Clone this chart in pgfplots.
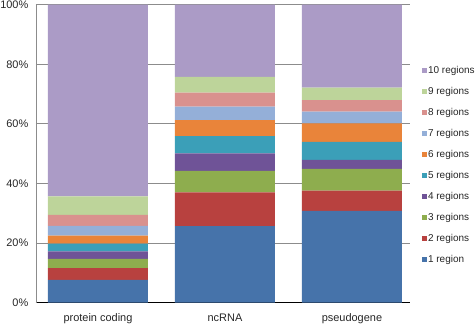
\documentclass[border=0pt]{standalone}
\usepackage{pgfplots}
\pgfplotsset{compat=1.18}
\usepackage{fontspec}
\setmainfont{Liberation Sans}

% series colours, 1 region ... 10 regions
\definecolor{cA}{HTML}{4673AA}
\definecolor{cB}{HTML}{B8413F}
\definecolor{cC}{HTML}{8EAD4E}
\definecolor{cD}{HTML}{6F5397}
\definecolor{cE}{HTML}{3B9FB8}
\definecolor{cF}{HTML}{E9843A}
\definecolor{cG}{HTML}{94AFD8}
\definecolor{cH}{HTML}{D9918E}
\definecolor{cI}{HTML}{BDD49A}
\definecolor{cJ}{HTML}{AB9BC6}
\definecolor{gridc}{HTML}{8C8C8C}
\definecolor{baseline}{HTML}{B9BDD0}

\begin{document}
\begin{tikzpicture}
\path[use as bounding box] (-36bp,-21.3bp) rectangle (440bp,302.7bp);
\begin{axis}[
  at={(0,0)}, anchor=south west,
  scale only axis,
  width=374bp, height=298bp,
  ybar stacked,
  bar width=100bp,
  xmin=-0.488, xmax=2.457,
  ymin=0, ymax=100,
  xtick={0,1,2},
  xticklabels={protein coding, ncRNA, pseudogene},
  ytick={0,20,40,60,80,100},
  yticklabels={0\%,20\%,40\%,60\%,80\%,100\%},
  major tick length=0pt,
  axis lines*=left,
  x axis line style={baseline, line width=1.2bp},
  y axis line style={gridc, line width=0.8bp},
  ymajorgrids,
  grid style={gridc, line width=0.8bp},
  tick label style={font=\fontsize{11}{13}\selectfont, text=black!85},
  yticklabel style={inner sep=0pt, xshift=-7.5bp},
  xticklabel style={inner sep=0pt, anchor=north, yshift=-11bp},
  reverse legend,
  legend cell align=left,
  legend style={draw=none, fill=none, inner sep=0pt, outer sep=0pt,
    at={(1.031,0.792)}, anchor=north west,
    row sep=12bp, column sep=1.5bp,
    nodes={inner sep=0pt, text height=7bp, text depth=2bp,
      font=\fontsize{10}{12}\selectfont, text=black!85}},
  legend image code/.code={\fill[#1] (0bp,-2bp) rectangle (5bp,3bp);},
  every axis plot/.append style={draw=none},
]
\addplot[fill=cA] coordinates {(0,7.7) (1,25.7) (2,30.8)};
\addlegendentry{1 region}
\addplot[fill=cB] coordinates {(0,3.9) (1,11.3) (2,6.8)};
\addlegendentry{2 regions}
\addplot[fill=cC] coordinates {(0,3.1) (1,7.2) (2,7.3)};
\addlegendentry{3 regions}
\addplot[fill=cD] coordinates {(0,2.5) (1,5.9) (2,3.0)};
\addlegendentry{4 regions}
\addplot[fill=cE] coordinates {(0,2.6) (1,5.8) (2,6.1)};
\addlegendentry{5 regions}
\addplot[fill=cF] coordinates {(0,2.7) (1,5.4) (2,6.2)};
\addlegendentry{6 regions}
\addplot[fill=cG] coordinates {(0,3.3) (1,4.5) (2,3.9)};
\addlegendentry{7 regions}
\addplot[fill=cH] coordinates {(0,3.7) (1,4.7) (2,3.9)};
\addlegendentry{8 regions}
\addplot[fill=cI] coordinates {(0,6.2) (1,5.3) (2,4.2)};
\addlegendentry{9 regions}
\addplot[fill=cJ] coordinates {(0,64.3) (1,24.2) (2,27.8)};
\addlegendentry{10 regions}
\end{axis}
\end{tikzpicture}
\end{document}
